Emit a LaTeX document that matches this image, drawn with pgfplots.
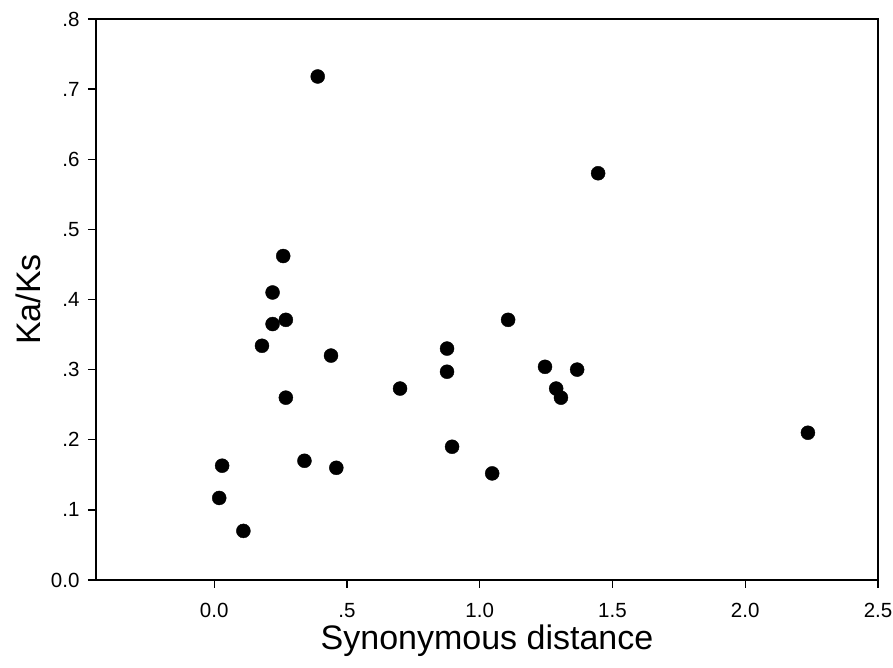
\documentclass[border=0pt]{standalone}
\usepackage{fontspec}
\setmainfont{Liberation Sans}
\usepackage{pgfplots}
\pgfplotsset{compat=1.18}
\begin{document}
\begin{tikzpicture}
\begin{axis}[
  scale only axis,
  width=782pt, height=561pt,
  xmin=-0.445, xmax=2.5,
  ymin=0, ymax=0.8,
  xtick={0,0.5,1,1.5,2,2.5},
  xticklabels={0.0,.5,1.0,1.5,2.0,2.5},
  ytick={0,0.1,0.2,0.3,0.4,0.5,0.6,0.7,0.8},
  yticklabels={0.0,.1,.2,.3,.4,.5,.6,.7,.8},
  tick align=outside,
  xtick pos=bottom, ytick pos=left,
  major tick length=8pt,
  every tick/.style={black, line width=1.3pt},
  axis line style={line width=1.5pt},
  xticklabel style={font=\fontsize{20.5}{24}\selectfont, yshift=-12pt},
  yticklabel style={font=\fontsize{20.5}{24}\selectfont, xshift=-5pt},
  xlabel={Synonymous distance},
  ylabel={Ka/Ks},
  xlabel style={font=\fontsize{34}{38}\selectfont, yshift=0pt},
  ylabel style={font=\fontsize{34}{38}\selectfont, yshift=3pt},
]
\addplot[only marks, mark=*, mark size=7pt, mark options={fill=black, draw=black}] coordinates {
(0.019,0.117) (0.03,0.163) (0.11,0.07) (0.18,0.334) (0.22,0.365) (0.22,0.41)
(0.26,0.462) (0.27,0.371) (0.27,0.26) (0.39,0.718) (0.44,0.32) (0.34,0.17)
(0.46,0.16) (0.70,0.273) (0.877,0.33) (0.877,0.297) (0.896,0.19) (1.047,0.152)
(1.107,0.371) (1.246,0.304) (1.288,0.273) (1.306,0.26) (1.367,0.3) (1.446,0.58)
(2.236,0.21)
};
\end{axis}
\pgfresetboundingbox
\path ([shift={(-96pt,-88pt)}]current axis.south west) rectangle ([shift={(15pt,19pt)}]current axis.north east);
\end{tikzpicture}
\end{document}
